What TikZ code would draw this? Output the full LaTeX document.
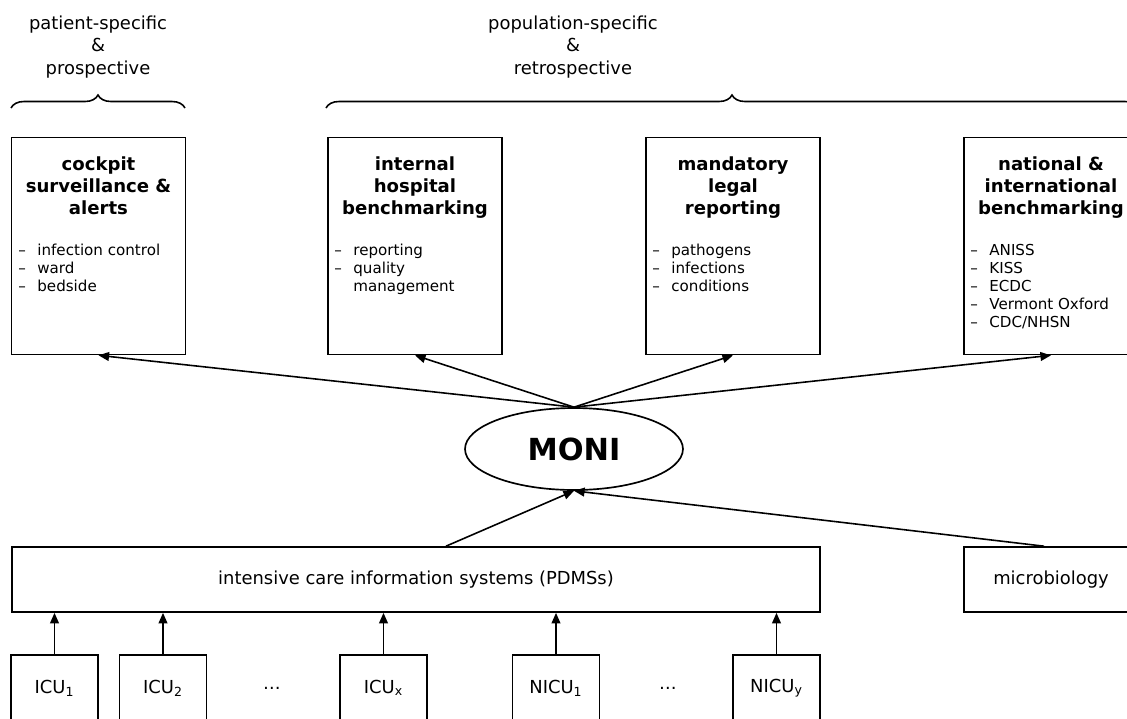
\documentclass[tikz,border=0pt]{standalone}
\usepackage{fontspec}
\setmainfont{DejaVu Sans}
\usetikzlibrary{arrows.meta,shapes.geometric,decorations.pathreplacing}
\newcommand{\itm}{\makebox[1.26em][l]{--}}
\tikzset{
	usebox/.style={draw,line width=0.95pt,minimum width=3.48cm,minimum height=4.34cm,inner sep=0},
	srcbox/.style={draw,line width=0.95pt,minimum height=1.3cm,inner sep=0,font=\fontsize{10.2}{12.75}\selectfont},
	unitbox/.style={draw,line width=0.95pt,minimum width=1.74cm,minimum height=1.32cm,inner sep=0,font=\fontsize{10.2}{12.75}\selectfont},
	boxtitle/.style={anchor=north,align=center,inner sep=0,font=\bfseries\fontsize{10.3}{12.75}\selectfont},
	boxlist/.style={anchor=north west,align=left,inner sep=0,font=\fontsize{8.6}{10.2}\selectfont},
	flow/.style={line width=0.9pt,-{Triangle[length=6pt,width=5pt]}},
	scopetext/.style={align=center,inner sep=0,font=\fontsize{10.2}{12.75}\selectfont},
	bracket/.style={line width=0.9pt,decorate,decoration={brace,amplitude=0.26cm}}
}
\begin{document}
\begin{tikzpicture}[x=0.02cm,y=-0.02cm]
	\useasboundingbox (0,0) rectangle (1127,718);
	\clip (0,0) rectangle (1127,718);
	% scope of the reports
	\node[scopetext] (patient) at (98,47) {patient-specific\\\&\\prospective};
	\node[scopetext] (population) at (573,47) {population-specific\\\&\\retrospective};
	\draw[bracket] (11,108) -- (185,108);
	\draw[bracket] (326,108) -- (1138,108);
	% report boxes
	\node[usebox] (cockpit) at (98.5,246) {};
	\node[usebox] (internal) at (415,246) {};
	\node[usebox] (mandatory) at (733,246) {};
	\node[usebox] (national) at (1051,246) {};
	\node[boxtitle] (cockpitT) at (98.5,156) {cockpit\\surveillance \&\\alerts};
	\node[boxtitle] (internalT) at (415,156) {internal\\hospital\\benchmarking};
	\node[boxtitle] (mandatoryT) at (733,156) {mandatory\\legal\\reporting};
	\node[boxtitle] (nationalT) at (1051,156) {national \&\\international\\benchmarking};
	\node[boxlist] (cockpitL) at (18,244) {\itm infection control\\\itm ward\\\itm bedside};
	\node[boxlist] (internalL) at (334,244) {\itm reporting\\\itm quality\\\hspace*{1.26em}management};
	\node[boxlist] (mandatoryL) at (652,244) {\itm pathogens\\\itm infections\\\itm conditions};
	\node[boxlist] (nationalL) at (970,244) {\itm ANISS\\\itm KISS\\\itm ECDC\\\itm Vermont Oxford\\\itm CDC/NHSN};
	% MONI
	\node[ellipse,draw,line width=0.95pt,minimum width=4.36cm,minimum height=1.64cm,inner sep=0,
		font=\bfseries\fontsize{17.3}{20}\selectfont] (moni) at (574,449) {MONI};
	% data sources
	\node[srcbox,minimum width=16.16cm] (pdms) at (416,579.5) {intensive care information systems (PDMSs)};
	\node[srcbox,minimum width=3.48cm] (micro) at (1051,579.5) {microbiology};
	\node[unitbox] (icu1) at (54.5,688) {ICU\textsubscript{1}};
	\node[unitbox] (icu2) at (163,688) {ICU\textsubscript{2}};
	\node[unitbox] (icux) at (383.5,688) {ICU\textsubscript{x}};
	\node[unitbox] (nicu1) at (556,688) {NICU\textsubscript{1}};
	\node[unitbox] (nicuy) at (776.5,688) {NICU\textsubscript{y}};
	\node (dotsA) at (272,688) {\dots};
	\node (dotsB) at (668,688) {\dots};
	% arrows
	\foreach \u in {icu1,icu2,icux,nicu1,nicuy}
		\draw[flow] (\u.north) -- (\u.north |- pdms.south);
	\draw[flow] ([xshift=0.6cm]pdms.north) -- (moni.south);
	\draw[flow] ([xshift=-0.14cm]micro.north) -- (moni.south);
	\foreach \t in {cockpit,internal,mandatory,national}
		\draw[flow] (moni.north) -- (\t.south);
\end{tikzpicture}
\end{document}
